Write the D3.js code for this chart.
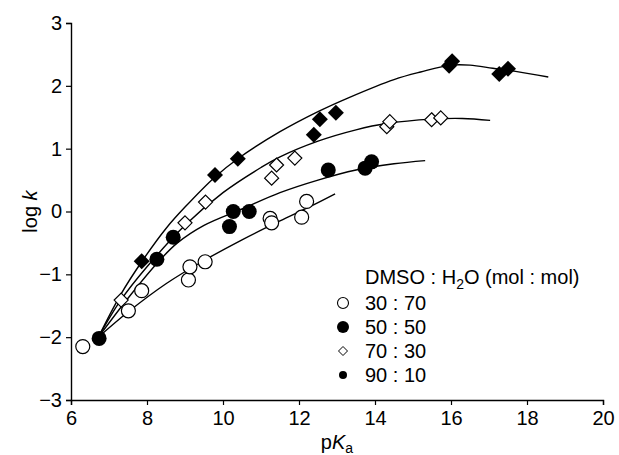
<!DOCTYPE html>
<html>
<head>
<meta charset="utf-8">
<script src="https://cdn.jsdelivr.net/npm/d3@7"></script>
<style>
  body { margin: 0; background: #fff; }
  text { font-family: "Liberation Sans", Arial, Helvetica, sans-serif; fill: #000; }
</style>
</head>
<body>
<div id="chart"></div>
<script>
// log k vs pKa in DMSO : H2O mixtures
var xTicks = [6, 8, 10, 12, 14, 16, 18, 20];
var yTicks = [-3, -2, -1, 0, 1, 2, 3];
var seriesNames = ["30 : 70", "50 : 50", "70 : 30", "90 : 10"];

// measured points [pKa, log k]
var pts3070 = [[6.31, -2.15], [7.51, -1.58], [7.86, -1.26], [9.09, -1.09], [9.13, -0.88], [9.53, -0.80],
               [11.24, -0.11], [11.28, -0.18], [12.07, -0.09], [12.20, 0.16]];
var pts5050 = [[6.74, -2.02], [8.26, -0.76], [8.69, -0.41], [10.17, -0.24], [10.27, 0.00], [10.69, 0.00],
               [12.77, 0.66], [13.74, 0.69], [13.91, 0.79]];
var pts7030 = [[7.32, -1.41], [9.00, -0.18], [9.54, 0.15], [11.28, 0.53], [11.41, 0.74], [11.89, 0.85],
               [14.31, 1.35], [14.39, 1.43], [15.49, 1.46], [15.73, 1.49]];
var pts9010 = [[7.86, -0.79], [9.79, 0.58], [10.39, 0.84], [12.39, 1.22], [12.55, 1.47], [12.97, 1.57],
               [15.95, 2.32], [16.03, 2.39], [17.27, 2.19], [17.50, 2.27]];

// fitted curves
var fit3070 = [[6.72, -2.0], [7.5, -1.6], [8.5, -1.15], [9.5, -0.78], [10.5, -0.45], [11.5, -0.15],
               [12.3, 0.08], [12.95, 0.28]];
var fit5050 = [[6.72, -2.0], [7.5, -1.38], [8.3, -0.8], [8.8, -0.5], [9.5, -0.22], [10.5, 0.04],
               [11.5, 0.3], [12.5, 0.5], [13.5, 0.66], [14.5, 0.76], [15.32, 0.81]];
var fit7030 = [[6.72, -2.0], [7.3, -1.42], [8.0, -0.88], [9.0, -0.22], [10.0, 0.3], [11.0, 0.7],
               [11.5, 0.87], [12.5, 1.12], [13.5, 1.3], [14.3, 1.4], [15.5, 1.47], [16.3, 1.48], [17.03, 1.45]];
var fit9010 = [[6.72, -2.0], [7.3, -1.33], [7.86, -0.8], [8.5, -0.27], [9.0, 0.07], [9.79, 0.55],
               [10.39, 0.84], [11.5, 1.27], [12.5, 1.59], [13.3, 1.81], [14.5, 2.1], [15.2, 2.22],
               [16.0, 2.33], [16.5, 2.33], [17.1, 2.28], [17.7, 2.23], [18.56, 2.14]];

var width = 619, height = 455;
var margin = { top: 23, right: 16, bottom: 55, left: 71 };
var fontSize = 20;

var svg = d3.select("#chart").append("svg")
    .attr("width", width)
    .attr("height", height);

var x = d3.scaleLinear().domain([6, 20]).range([margin.left, width - margin.right]);
var y = d3.scaleLinear().domain([-3, 3]).range([height - margin.bottom, margin.top]);

// Axes
var axisX = svg.append("g")
    .attr("transform", "translate(0," + y(-3) + ")")
    .call(d3.axisBottom(x).tickValues(xTicks).tickSize(5).tickPadding(6).tickFormat(d3.format("d")));
var axisY = svg.append("g")
    .attr("transform", "translate(" + x(6) + ",0)")
    .call(d3.axisLeft(y).tickValues(yTicks).tickSize(5).tickPadding(4).tickFormat(d3.format("d")));

[axisX, axisY].forEach(function (a) {
    a.select(".domain").attr("stroke", "#000").attr("stroke-width", 1.4);
    a.selectAll(".tick line").attr("stroke", "#000").attr("stroke-width", 1.2);
    a.selectAll("text").style("font-size", fontSize + "px").attr("fill", "#000");
});

// Axis labels
var labelX = svg.append("text")
    .attr("x", (x(6) + x(20)) / 2)
    .attr("y", 449)
    .style("text-anchor", "middle")
    .style("font-size", fontSize + "px");
labelX.append("tspan").text("p");
labelX.append("tspan").style("font-style", "italic").text("K");
labelX.append("tspan").attr("dy", 4).style("font-size", "14px").text("a");

var labelY = svg.append("text")
    .attr("transform", "translate(37," + y(0) + ") rotate(-90)")
    .style("text-anchor", "middle")
    .style("font-size", fontSize + "px");
labelY.append("tspan").text("log ");
labelY.append("tspan").style("font-style", "italic").text("k");

// Curves
var line = d3.line()
    .x(function (d) { return x(d[0]); })
    .y(function (d) { return y(d[1]); })
    .curve(d3.curveCatmullRom.alpha(0.5));

[fit3070, fit5050, fit7030, fit9010].forEach(function (f) {
    svg.append("path")
        .datum(f)
        .attr("d", line)
        .attr("fill", "none")
        .attr("stroke", "#000")
        .attr("stroke-width", 1.4);
});

// Markers
var diamond = function (s) {
    return "M0," + (-s) + "L" + s + ",0L0," + s + "L" + (-s) + ",0Z";
};

svg.selectAll("circle.s3070")
    .data(pts3070)
    .enter().append("circle")
    .attr("cx", function (d) { return x(d[0]); })
    .attr("cy", function (d) { return y(d[1]); })
    .attr("r", 7)
    .attr("fill", "#fff")
    .attr("stroke", "#000")
    .attr("stroke-width", 1.2);

svg.selectAll("circle.s5050")
    .data(pts5050)
    .enter().append("circle")
    .attr("cx", function (d) { return x(d[0]); })
    .attr("cy", function (d) { return y(d[1]); })
    .attr("r", 7.5)
    .attr("fill", "#000");

svg.selectAll("path.s7030")
    .data(pts7030)
    .enter().append("path")
    .attr("d", diamond(7))
    .attr("transform", function (d) { return "translate(" + x(d[0]) + "," + y(d[1]) + ")"; })
    .attr("fill", "#fff")
    .attr("stroke", "#000")
    .attr("stroke-width", 1.2);

svg.selectAll("path.s9010")
    .data(pts9010)
    .enter().append("path")
    .attr("d", diamond(8))
    .attr("transform", function (d) { return "translate(" + x(d[0]) + "," + y(d[1]) + ")"; })
    .attr("fill", "#000");

// Legend
var legend = svg.append("g").attr("class", "legend");
var legendTitle = legend.append("text")
    .attr("x", 365).attr("y", 284)
    .style("font-size", fontSize + "px");
legendTitle.append("tspan").text("DMSO : H");
legendTitle.append("tspan").attr("dy", 5).style("font-size", "14px").text("2");
legendTitle.append("tspan").attr("dy", -5).text("O (mol : mol)");

seriesNames.forEach(function (name, i) {
    var ly = 310 + i * 24;
    var g = legend.append("g");
    if (i === 0) {
        g.append("circle").attr("cx", 343).attr("cy", ly - 7).attr("r", 5.5)
            .attr("fill", "#fff").attr("stroke", "#000").attr("stroke-width", 1.1);
    } else if (i === 1) {
        g.append("circle").attr("cx", 343).attr("cy", ly - 7).attr("r", 6).attr("fill", "#000");
    } else if (i === 2) {
        g.append("path").attr("d", diamond(4.5))
            .attr("transform", "translate(343," + (ly - 7) + ")")
            .attr("fill", "#fff").attr("stroke", "#000").attr("stroke-width", 1);
    } else {
        g.append("circle").attr("cx", 343).attr("cy", ly - 7).attr("r", 4).attr("fill", "#000");
    }
    g.append("text")
        .attr("x", 365).attr("y", ly)
        .style("font-size", fontSize + "px")
        .text(name);
});
</script>
</body>
</html>
